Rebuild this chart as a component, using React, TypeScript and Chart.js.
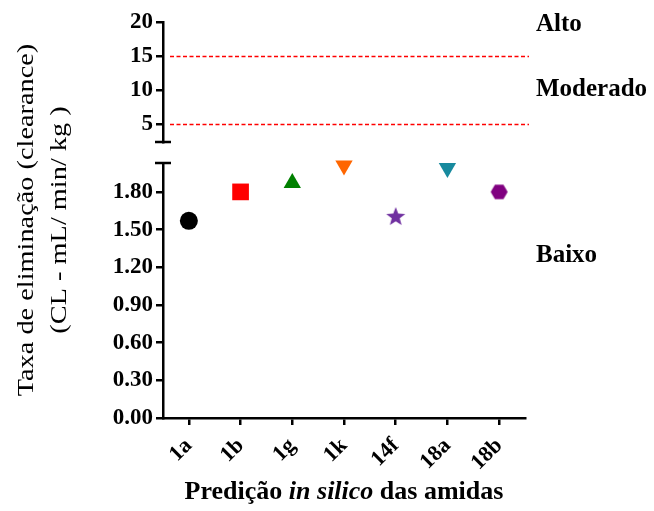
import { useEffect, useRef } from 'react';
import { Chart, registerables } from 'chart.js';

Chart.register(...registerables);

// ---------- data ----------
const categories = ['1a', '1b', '1g', '1k', '14f', '18a', '18b'];
const clearance = [1.57, 1.8, 1.87, 2.01, 1.6, 1.99, 1.8];
const markerColors = ['#000000', '#ff0000', '#008000', '#ff6600', '#7030a0', '#178a9e', '#800080'];
const markerShapes = ['circle', 'rect', 'triangle', 'invTriangle', 'star', 'invTriangle', 'hexagon'];
const lowerTicks = [0, 0.3, 0.6, 0.9, 1.2, 1.5, 1.8];
const upperTicks = [5, 10, 15, 20];
const limitValues = [15, 5];
const zoneLabels = ['Alto', 'Moderado', 'Baixo'];
const yTitleLines = ['Taxa de eliminação (clearance)', '(CL - mL/ min/ kg )'];
const xTitleParts = [
  { text: 'Predição ', italic: false },
  { text: 'in silico', italic: true },
  { text: ' das amidas', italic: false },
];

const SERIF = '"Liberation Serif", "Times New Roman", serif';

function makeStar(color: string, R: number) {
  const size = Math.ceil(R * 2) + 2;
  const c = document.createElement('canvas');
  c.width = size;
  c.height = size;
  const ctx = c.getContext('2d')!;
  const cx = size / 2, cy = size / 2;
  const r = R * 0.42;
  ctx.beginPath();
  for (let i = 0; i < 10; i++) {
    const ang = -Math.PI / 2 + (i * Math.PI) / 5;
    const rad = i % 2 === 0 ? R : r;
    const px = cx + rad * Math.cos(ang);
    const py = cy + rad * Math.sin(ang);
    if (i === 0) ctx.moveTo(px, py);
    else ctx.lineTo(px, py);
  }
  ctx.closePath();
  ctx.fillStyle = color;
  ctx.fill();
  return c;
}

function makeHex(color: string, R: number) {
  const size = Math.ceil(R * 2) + 2;
  const c = document.createElement('canvas');
  c.width = size;
  c.height = size;
  const ctx = c.getContext('2d')!;
  const cx = size / 2, cy = size / 2;
  ctx.beginPath();
  for (let i = 0; i < 6; i++) {
    const ang = (i * Math.PI) / 3;
    const px = cx + R * Math.cos(ang);
    const py = cy + R * Math.sin(ang);
    if (i === 0) ctx.moveTo(px, py);
    else ctx.lineTo(px, py);
  }
  ctx.closePath();
  ctx.fillStyle = color;
  ctx.fill();
  return c;
}

export default function App() {
  const canvasRef = useRef<HTMLCanvasElement | null>(null);

  useEffect(() => {
    document.body.style.margin = '0';
    const canvas = canvasRef.current;
    if (!canvas) return;

    const styles: any[] = [];
    const rotations: number[] = [];
    const radii: number[] = [];
    markerShapes.forEach((s, i) => {
      const col = markerColors[i];
      if (s === 'circle') { styles.push('circle'); rotations.push(0); radii.push(9); }
      else if (s === 'rect') { styles.push('rect'); rotations.push(0); radii.push(11.8); }
      else if (s === 'triangle') { styles.push('triangle'); rotations.push(0); radii.push(10); }
      else if (s === 'invTriangle') { styles.push('triangle'); rotations.push(180); radii.push(10); }
      else if (s === 'star') { styles.push(makeStar(col, 10)); rotations.push(0); radii.push(10); }
      else { styles.push(makeHex(col, 8.5)); rotations.push(0); radii.push(9); }
    });

    const axisGrid = {
      display: true,
      drawOnChartArea: false,
      drawTicks: true,
      tickLength: 7,
      lineWidth: 2.5,
      color: '#000',
    };
    const axisBorder = { display: true, width: 2.5, color: '#000' };

    const layoutPlugin = {
      id: 'brokenAxis',
      afterLayout(chart: any) {
        const ca = chart.chartArea;
        const yT = chart.scales.y2;
        const yB = chart.scales.y;
        yT.top = ca.top;
        yT.bottom = ca.top + 120;
        yT.height = 120;
        yB.top = ca.top + 141;
        yB.bottom = ca.bottom;
        yB.height = yB.bottom - yB.top;
        yT.configure();
        yB.configure();
      },
      afterDraw(chart: any) {
        const ctx = chart.ctx;
        const ca = chart.chartArea;
        const yT = chart.scales.y2;
        const yB = chart.scales.y;
        const axisX = yB.right;
        ctx.save();
        // break caps
        ctx.strokeStyle = '#000';
        ctx.lineWidth = 2.5;
        ctx.beginPath();
        ctx.moveTo(axisX - 8, yT.bottom);
        ctx.lineTo(axisX + 8, yT.bottom);
        ctx.moveTo(axisX - 8, yB.top);
        ctx.lineTo(axisX + 8, yB.top);
        ctx.stroke();

        // limit lines
        ctx.strokeStyle = '#ff0000';
        ctx.lineWidth = 1.3;
        ctx.setLineDash([4, 2.5]);
        limitValues.forEach((v) => {
          const py = Math.round(yT.getPixelForValue(v)) + 0.5;
          ctx.beginPath();
          ctx.moveTo(ca.left + 7, py);
          ctx.lineTo(ca.right + 4, py);
          ctx.stroke();
        });
        ctx.setLineDash([]);

        // zone labels
        ctx.fillStyle = '#000';
        ctx.font = `bold 25px ${SERIF}`;
        ctx.textAlign = 'left';
        ctx.textBaseline = 'middle';
        const lx = ca.right + 11;
        ctx.fillText(zoneLabels[0], lx, yT.getPixelForValue(19.6));
        ctx.fillText(zoneLabels[1], lx, yT.getPixelForValue(10));
        ctx.fillText(zoneLabels[2], lx, yB.getPixelForValue(1.29));

        // y title
        const cy = (ca.top + ca.bottom) / 2;
        ctx.font = `24px ${SERIF}`;
        ctx.textAlign = 'center';
        ctx.textBaseline = 'alphabetic';
        const baseX = [33, 66];
        yTitleLines.forEach((line, i) => {
          ctx.save();
          ctx.translate(baseX[i], cy);
          ctx.rotate(-Math.PI / 2);
          ctx.scale(1.18, 1);
          ctx.fillText(line, 0, 0);
          ctx.restore();
        });

        // x title
        const fonts = xTitleParts.map((p) => `${p.italic ? 'italic ' : ''}bold 26px ${SERIF}`);
        let total = 0;
        const widths = xTitleParts.map((p, i) => {
          ctx.font = fonts[i];
          const w = ctx.measureText(p.text).width;
          total += w;
          return w;
        });
        let x = (ca.left + ca.right) / 2 - total / 2;
        ctx.textAlign = 'left';
        xTitleParts.forEach((p, i) => {
          ctx.font = fonts[i];
          ctx.fillText(p.text, x, 499);
          x += widths[i];
        });
        ctx.restore();
      },
    };

    const chart = new Chart(canvas, {
      type: 'line',
      data: {
        labels: categories,
        datasets: [
          {
            data: clearance,
            showLine: false,
            yAxisID: 'y',
            pointStyle: styles,
            pointRotation: rotations,
            pointRadius: radii,
            pointBackgroundColor: markerColors,
            pointBorderColor: markerColors,
            pointBorderWidth: 0,
            clip: false as any,
          } as any,
        ],
      },
      options: {
        responsive: false,
        animation: false,
        events: [],
        layout: { padding: { left: 0, top: 22, right: 129, bottom: 0 } },
        plugins: { legend: { display: false }, tooltip: { enabled: false } },
        scales: {
          x: {
            type: 'category',
            offset: true,
            grid: { ...axisGrid, offset: false },
            border: axisBorder,
            ticks: {
              color: '#000',
              font: { family: SERIF, size: 22, weight: 'bold' },
              minRotation: 45,
              maxRotation: 45,
              autoSkip: false,
              padding: 8,
            },
            afterFit: (s: any) => { s.height = 93; },
          },
          y: {
            type: 'linear',
            position: 'left',
            stack: 'v',
            stackWeight: 2,
            min: 0,
            max: 2.03,
            grid: axisGrid,
            border: axisBorder,
            ticks: {
              color: '#000',
              font: { family: SERIF, size: 23, weight: 'bold' },
              padding: 3,
              autoSkip: false,
              callback: (v: any) => Number(v).toFixed(2),
            },
            afterBuildTicks: (s: any) => { s.ticks = lowerTicks.map((v) => ({ value: v })); },
            afterFit: (s: any) => { s.width = 163; },
          },
          y2: {
            type: 'linear',
            position: 'left',
            stack: 'v',
            stackWeight: 1,
            min: 2.35,
            max: 20,
            grid: axisGrid,
            border: axisBorder,
            ticks: {
              color: '#000',
              font: { family: SERIF, size: 23, weight: 'bold' },
              padding: 3,
              autoSkip: false,
              callback: (v: any) => String(v),
            },
            afterBuildTicks: (s: any) => { s.ticks = upperTicks.map((v) => ({ value: v })); },
            afterFit: (s: any) => { s.width = 163; },
          },
        },
      } as any,
      plugins: [layoutPlugin],
    });

    return () => chart.destroy();
  }, []);

  return (
    <div style={{ width: 654, height: 511, background: '#fff' }}>
      <canvas ref={canvasRef} width={654} height={511} style={{ display: 'block' }} />
    </div>
  );
}
